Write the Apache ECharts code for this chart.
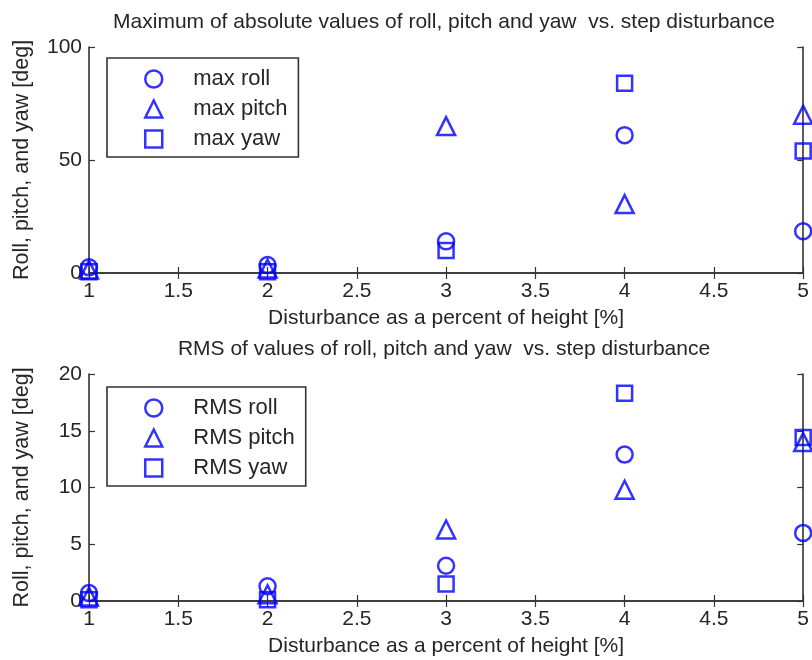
<!DOCTYPE html>
<html>
<head>
    <meta charset="UTF-8">
    <title>Roll, pitch and yaw vs. step disturbance</title>
    <script src="https://cdn.jsdelivr.net/npm/echarts@6/dist/echarts.min.js"></script>
    <style>
        html, body {margin: 0; padding: 0; background: #fff;}
        #chart {width: 812px; height: 660px;}
    </style>
</head>
<body>
    <div id="chart"></div>

    <script>
        // disturbance steps (percent of height)
        const steps = [1, 2, 3, 4, 5];

        // maximum absolute values [deg]
        const maxRoll  = [2.5, 3.5, 14, 61, 18.5];
        const maxPitch = [1.5, 2, 65, 30.5, 70];
        const maxYaw   = [0.5, 0.5, 10, 84, 54];

        // RMS values [deg]
        const rmsRoll  = [0.7, 1.3, 3.1, 12.9, 6.0];
        const rmsPitch = [0.4, 0.6, 6.3, 9.8, 14.0];
        const rmsYaw   = [0.1, 0.1, 1.5, 18.3, 14.4];

        const xTicks = [1, 1.5, 2, 2.5, 3, 3.5, 4, 4.5, 5];

        const FONT = "'Liberation Sans', Arial, sans-serif";
        const TXT = '#262626';
        const AX = '#333';
        const BLUE = '#0000ff';

        const pairs = (xs, ys) => xs.map((x, i) => [x, ys[i]]);

        // bottom axis with labels + mirrored top axis (MATLAB box)
        const xAxes = (g) => [
            {
                gridIndex: g, type: 'value', position: 'bottom',
                min: xTicks[0], max: xTicks[xTicks.length - 1], interval: 0.5,
                name: 'Disturbance as a percent of height [%]',
                nameLocation: 'middle', nameGap: 35,
                nameTextStyle: { fontFamily: FONT, fontSize: 21, color: TXT },
                axisLine: { lineStyle: { color: AX, width: 1.6 } },
                axisTick: { inside: true, length: 6, lineStyle: { color: AX, width: 1.2 } },
                axisLabel: { margin: 8, fontFamily: FONT, fontSize: 21, color: TXT },
                splitLine: { show: false }
            },
            {
                gridIndex: g, type: 'value', position: 'top',
                min: xTicks[0], max: xTicks[xTicks.length - 1], interval: 0.5,
                axisLine: { lineStyle: { color: AX, width: 1.6 } },
                axisTick: { inside: true, length: 6, lineStyle: { color: AX, width: 1.2 } },
                axisLabel: { show: false },
                splitLine: { show: false }
            }
        ];

        const yAxes = (g, max, step) => [
            {
                gridIndex: g, type: 'value', position: 'left',
                min: 0, max: max, interval: step,
                name: 'Roll, pitch, and yaw [deg]',
                nameLocation: 'middle', nameGap: 56,
                nameTextStyle: { fontFamily: FONT, fontSize: 21.5, color: TXT },
                axisLine: { show: true, lineStyle: { color: AX, width: 1.6 } },
                axisTick: { show: true, inside: true, length: 6, lineStyle: { color: AX, width: 1.2 } },
                axisLabel: { margin: 7, fontFamily: FONT, fontSize: 21, color: TXT },
                splitLine: { show: false }
            },
            {
                gridIndex: g, type: 'value', position: 'right',
                min: 0, max: max, interval: step,
                axisLine: { show: true, lineStyle: { color: AX, width: 1.6 } },
                axisTick: { show: true, inside: true, length: 6, lineStyle: { color: AX, width: 1.2 } },
                axisLabel: { show: false },
                splitLine: { show: false }
            }
        ];

        const hollow = { color: 'transparent', borderColor: BLUE, borderWidth: 2.5 };

        const scatter = (name, g, symbol, size, ys) => ({
            name: name, type: 'scatter',
            xAxisIndex: g * 2, yAxisIndex: g * 2,
            symbol: symbol, symbolSize: size,
            itemStyle: hollow,
            emphasis: { disabled: true },
            data: pairs(steps, ys)
        });

        const legend = (top, names) => ({
            orient: 'vertical',
            left: 107, top: top,
            padding: [10, 11, 7, 37],
            itemWidth: 17, itemHeight: 17, itemGap: 8,
            backgroundColor: '#fff',
            borderColor: AX, borderWidth: 1.6,
            textStyle: { fontFamily: FONT, fontSize: 22, lineHeight: 22, color: TXT, padding: [0, 0, 0, 26] },
            itemStyle: hollow,
            selectedMode: false,
            data: [
                { name: names[0], icon: 'circle' },
                { name: names[1], icon: 'triangle' },
                { name: names[2], icon: 'rect' }
            ]
        });

        const chart = echarts.init(document.getElementById('chart'), null, { renderer: 'canvas' });
        chart.setOption({
            animation: false,
            backgroundColor: '#fff',
            title: [
                {
                    text: 'Maximum of absolute values of roll, pitch and yaw  vs. step disturbance',
                    left: 444, top: 12, textAlign: 'center', padding: 0,
                    textStyle: { fontFamily: FONT, fontSize: 21, fontWeight: 'normal', color: TXT }
                },
                {
                    text: 'RMS of values of roll, pitch and yaw  vs. step disturbance',
                    left: 444, top: 339, textAlign: 'center', padding: 0,
                    textStyle: { fontFamily: FONT, fontSize: 21, fontWeight: 'normal', color: TXT }
                }
            ],
            grid: [
                { left: 89, top: 47, width: 715, height: 226 },
                { left: 89, top: 374, width: 715, height: 227 }
            ],
            xAxis: [...xAxes(0), ...xAxes(1)],
            yAxis: [...yAxes(0, 100, 50), ...yAxes(1, 20, 5)],
            legend: [
                legend(58, ['max roll', 'max pitch', 'max yaw']),
                legend(387, ['RMS roll', 'RMS pitch', 'RMS yaw'])
            ],
            series: [
                scatter('max roll', 0, 'circle', 16, maxRoll),
                scatter('max pitch', 0, 'triangle', 18, maxPitch),
                scatter('max yaw', 0, 'rect', 15, maxYaw),
                scatter('RMS roll', 1, 'circle', 16, rmsRoll),
                scatter('RMS pitch', 1, 'triangle', 18, rmsPitch),
                scatter('RMS yaw', 1, 'rect', 15, rmsYaw)
            ]
        });
    </script>
</body>
</html>
